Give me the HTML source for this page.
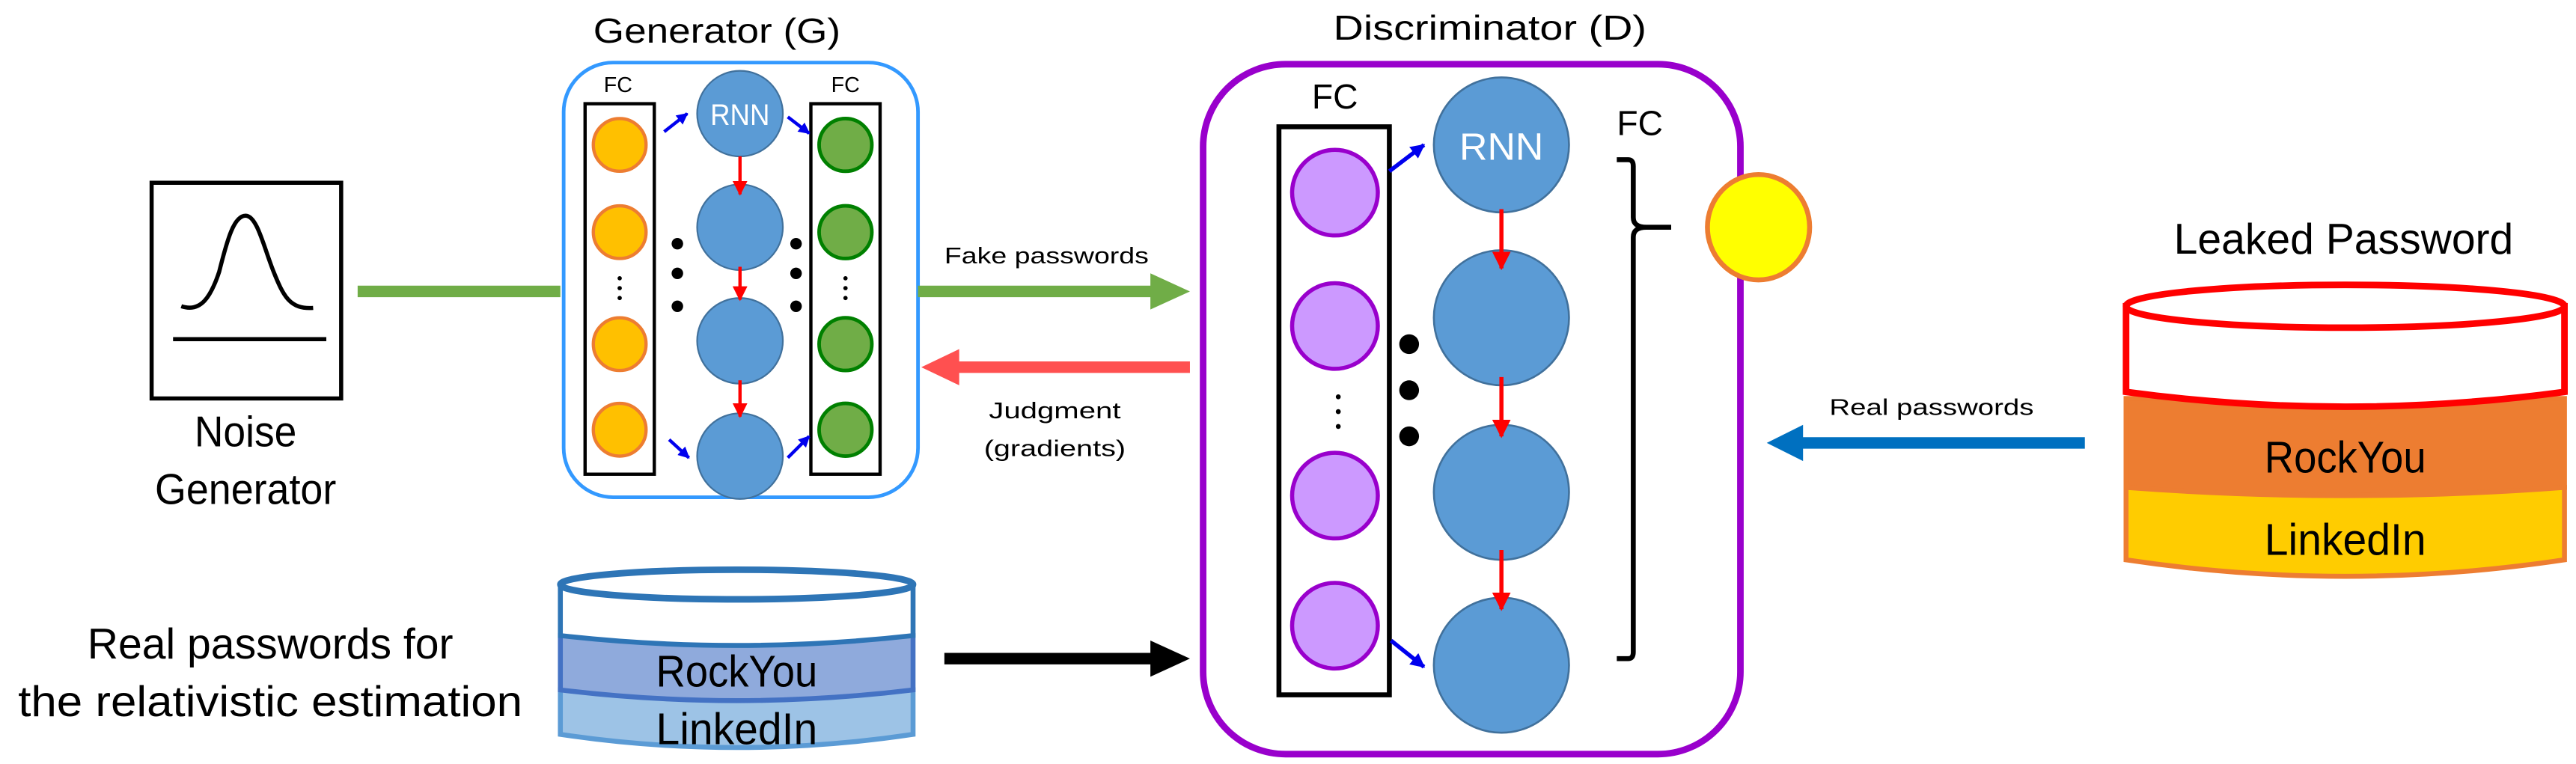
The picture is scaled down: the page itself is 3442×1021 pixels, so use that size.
<!DOCTYPE html>
<html><head><meta charset="utf-8"><style>
html,body{margin:0;padding:0;background:#fff;}
svg{display:block;}
text{font-family:"Liberation Sans",sans-serif;}
</style></head><body>
<svg width="3442" height="1021" viewBox="0 0 1563 464" preserveAspectRatio="none" xmlns="http://www.w3.org/2000/svg">
<defs>
<marker id="ar" viewBox="0 0 10 10" refX="9" refY="5" markerWidth="4.5" markerHeight="4.5" orient="auto"><path d="M0,0L10,5L0,10z" fill="#ff0000"/></marker>
<marker id="ab" viewBox="0 0 10 10" refX="9" refY="5" markerWidth="3.5" markerHeight="3.5" orient="auto"><path d="M0,0L10,5L0,10z" fill="#0000ee"/></marker>
</defs>

<!-- Noise generator -->
<rect x="92" y="111" width="115" height="131" fill="#fff" stroke="#000" stroke-width="2.5"/>
<path d="M110,186 C122,190 128,180 133,165 C138,145 142,131 149,131 C156,131 160,150 166,165 C172,180 176,188 190,187" fill="none" stroke="#000" stroke-width="2.5"/>
<line x1="105" y1="206" x2="198" y2="206" stroke="#000" stroke-width="2.5"/>
<text x="149" y="271" font-size="26" text-anchor="middle" textLength="62" lengthAdjust="spacingAndGlyphs">Noise</text>
<text x="149" y="306" font-size="26" text-anchor="middle" textLength="110" lengthAdjust="spacingAndGlyphs">Generator</text>

<line x1="217" y1="177" x2="340" y2="177" stroke="#70ad47" stroke-width="7"/>

<!-- Generator -->
<text x="435" y="26" font-size="21" text-anchor="middle" textLength="150" lengthAdjust="spacingAndGlyphs">Generator (G)</text>
<rect x="342" y="38" width="215" height="264" rx="30" fill="#fff" stroke="#3399ff" stroke-width="2.2"/>
<text x="375" y="56" font-size="13" text-anchor="middle">FC</text>
<text x="513" y="56" font-size="13" text-anchor="middle">FC</text>
<rect x="355" y="63" width="42" height="225" fill="none" stroke="#000" stroke-width="2"/>
<rect x="492" y="63" width="42" height="225" fill="none" stroke="#000" stroke-width="2"/>
<g fill="#ffc000" stroke="#ed7d31" stroke-width="2">
<circle cx="376" cy="88" r="16"/><circle cx="376" cy="141" r="16"/><circle cx="376" cy="209" r="16"/><circle cx="376" cy="261" r="16"/></g>
<g fill="#70ad47" stroke="#008000" stroke-width="2.2">
<circle cx="513" cy="88" r="16"/><circle cx="513" cy="141" r="16"/><circle cx="513" cy="209" r="16"/><circle cx="513" cy="261" r="16"/></g>
<g fill="#000"><circle cx="376" cy="169" r="1.3"/><circle cx="376" cy="175" r="1.3"/><circle cx="376" cy="181" r="1.3"/>
<circle cx="513" cy="169" r="1.3"/><circle cx="513" cy="175" r="1.3"/><circle cx="513" cy="181" r="1.3"/>
<circle cx="411" cy="148" r="3.5"/><circle cx="411" cy="166" r="3.5"/><circle cx="411" cy="186" r="3.5"/>
<circle cx="483" cy="148" r="3.5"/><circle cx="483" cy="166" r="3.5"/><circle cx="483" cy="186" r="3.5"/></g>
<g fill="#5b9bd5" stroke="#41719c" stroke-width="1">
<circle cx="449" cy="69" r="26"/><circle cx="449" cy="138" r="26"/><circle cx="449" cy="207" r="26"/><circle cx="449" cy="277" r="26"/></g>
<text x="449" y="76" font-size="18" fill="#fff" text-anchor="middle" textLength="36" lengthAdjust="spacingAndGlyphs">RNN</text>
<g stroke="#ff0000" stroke-width="2" marker-end="url(#ar)">
<line x1="449" y1="95" x2="449" y2="118"/><line x1="449" y1="162" x2="449" y2="182"/><line x1="449" y1="231" x2="449" y2="253"/></g>
<g stroke="#0000ee" stroke-width="2" marker-end="url(#ab)">
<line x1="403" y1="80" x2="417" y2="69"/><line x1="478" y1="71" x2="491" y2="81"/>
<line x1="406" y1="267" x2="418" y2="278"/><line x1="478" y1="278" x2="491" y2="265"/></g>

<line x1="557" y1="177" x2="700" y2="177" stroke="#70ad47" stroke-width="7"/>
<path d="M698,166 L722,177 L698,188z" fill="#70ad47"/>
<text x="635" y="160" font-size="14" text-anchor="middle" textLength="124" lengthAdjust="spacingAndGlyphs">Fake passwords</text>
<line x1="580" y1="223" x2="722" y2="223" stroke="#ff5050" stroke-width="7"/>
<path d="M582,212 L559,223 L582,234z" fill="#ff5050"/>
<text x="640" y="254" font-size="14" text-anchor="middle" textLength="80" lengthAdjust="spacingAndGlyphs">Judgment</text>
<text x="640" y="277" font-size="14" text-anchor="middle" textLength="86" lengthAdjust="spacingAndGlyphs">(gradients)</text>

<!-- bottom-left cylinder -->
<path d="M340,419 L340,446 Q447,462 554,446 L554,419z" fill="#9dc3e6" stroke="#5b9bd5" stroke-width="3"/>
<path d="M340,386 L340,419 Q447,432 554,419 L554,386z" fill="#8faadc" stroke="#4472c4" stroke-width="3"/>
<path d="M340,355 L340,386 Q447,398 554,386 L554,355z" fill="#fff" stroke="#2e75b6" stroke-width="3"/>
<ellipse cx="447" cy="355" rx="107" ry="9" fill="#fff" stroke="#2e75b6" stroke-width="4"/>
<text x="447" y="417" font-size="27" text-anchor="middle" textLength="98" lengthAdjust="spacingAndGlyphs">RockYou</text>
<text x="447" y="452" font-size="27" text-anchor="middle" textLength="98" lengthAdjust="spacingAndGlyphs">LinkedIn</text>
<text x="164" y="400" font-size="26" text-anchor="middle" textLength="222" lengthAdjust="spacingAndGlyphs">Real passwords for</text>
<text x="164" y="435" font-size="26" text-anchor="middle" textLength="306" lengthAdjust="spacingAndGlyphs">the relativistic estimation</text>
<line x1="573" y1="400" x2="700" y2="400" stroke="#000" stroke-width="7"/>
<path d="M698,389 L722,400 L698,411z" fill="#000"/>

<!-- Discriminator -->
<text x="904" y="24" font-size="21" text-anchor="middle" textLength="190" lengthAdjust="spacingAndGlyphs">Discriminator (D)</text>
<rect x="730" y="39" width="326" height="419" rx="50" fill="#fff" stroke="#9900cc" stroke-width="4"/>
<text x="810" y="66" font-size="21" text-anchor="middle">FC</text>
<text x="995" y="82" font-size="21" text-anchor="middle">FC</text>
<rect x="776" y="77" width="67" height="345" fill="none" stroke="#000" stroke-width="3"/>
<g fill="#cc99ff" stroke="#9900cc" stroke-width="2.5">
<circle cx="810" cy="117" r="26"/><circle cx="810" cy="198" r="26"/><circle cx="810" cy="301" r="26"/><circle cx="810" cy="380" r="26"/></g>
<g fill="#000"><circle cx="812" cy="241" r="1.5"/><circle cx="812" cy="250" r="1.5"/><circle cx="812" cy="259" r="1.5"/>
<circle cx="855" cy="209" r="6"/><circle cx="855" cy="237" r="6"/><circle cx="855" cy="265" r="6"/></g>
<g fill="#5b9bd5" stroke="#41719c" stroke-width="1.2">
<circle cx="911" cy="88" r="41"/><circle cx="911" cy="193" r="41"/><circle cx="911" cy="299" r="41"/><circle cx="911" cy="404" r="41"/></g>
<text x="911" y="97" font-size="23" fill="#fff" text-anchor="middle" textLength="51" lengthAdjust="spacingAndGlyphs">RNN</text>
<g stroke="#ff0000" stroke-width="2.5" marker-end="url(#ar)">
<line x1="911" y1="127" x2="911" y2="163"/><line x1="911" y1="229" x2="911" y2="265"/><line x1="911" y1="334" x2="911" y2="370"/></g>
<g stroke="#0000ee" stroke-width="2.5" marker-end="url(#ab)">
<line x1="843" y1="104" x2="864" y2="88"/><line x1="844" y1="389" x2="864" y2="405"/></g>
<path d="M981,97 L988,97 Q991,97 991,101 L991,132 Q991,138 999,138 L1014,138 M999,138 Q991,138 991,144 L991,396 Q991,400 988,400 L981,400" fill="none" stroke="#000" stroke-width="3"/>
<ellipse cx="1067" cy="138" rx="31" ry="32" fill="#ffff00" stroke="#ed7d31" stroke-width="3"/>

<line x1="1092" y1="269" x2="1265" y2="269" stroke="#0070c0" stroke-width="7"/>
<path d="M1094,258 L1072,269 L1094,280z" fill="#0070c0"/>
<text x="1172" y="252" font-size="14" text-anchor="middle" textLength="124" lengthAdjust="spacingAndGlyphs">Real passwords</text>

<!-- Leaked cylinder -->
<text x="1422" y="154" font-size="26" text-anchor="middle" textLength="206" lengthAdjust="spacingAndGlyphs">Leaked Password</text>
<path d="M1290,296 L1290,340 Q1423,360 1556,340 L1556,296z" fill="#ffcc00" stroke="#ed7d31" stroke-width="3"/>
<path d="M1290,242 L1290,296 Q1423,306 1556,296 L1556,242z" fill="#ed7d31" stroke="#ed7d31" stroke-width="3"/>
<path d="M1290,186 L1290,238 Q1423,256 1556,238 L1556,186z" fill="#fff" stroke="#ff0000" stroke-width="4"/>
<ellipse cx="1423" cy="186" rx="133" ry="13" fill="#fff" stroke="#ff0000" stroke-width="4"/>
<text x="1423" y="287" font-size="27" text-anchor="middle" textLength="98" lengthAdjust="spacingAndGlyphs">RockYou</text>
<text x="1423" y="337" font-size="27" text-anchor="middle" textLength="98" lengthAdjust="spacingAndGlyphs">LinkedIn</text>
</svg>
</body></html>
